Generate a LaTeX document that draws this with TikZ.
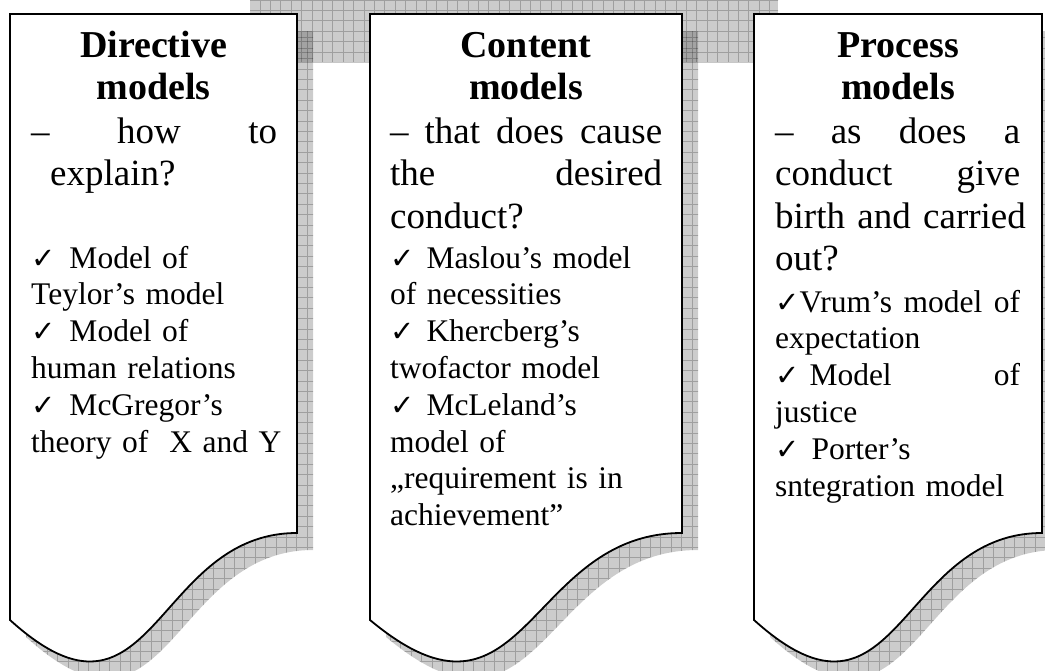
\documentclass[tikz,border=0pt]{standalone}
\usepackage{fontspec}
\setmainfont{Liberation Serif}
\newfontfamily\symfont{DejaVu Sans}
\newcommand\tick{{\symfont\fontsize{29}{29}\selectfont ✓}}
\newcommand\spread[2]{{\spaceskip=0pt\xspaceskip=0pt\makebox[#1pt][s]{#2}}}

\begin{document}
\begin{tikzpicture}
  [x=1pt,y=-1pt,
   shadowfill/.style={fill=black,fill opacity=0.2},
   gridline/.style={draw=black,draw opacity=0.22,line width=0.7pt,step=10.4pt},
   docbox/.style={draw=black,line width=1.8pt,fill=white},
   title/.style={font=\fontsize{38}{42.5}\selectfont\bfseries,align=center,anchor=base,inner sep=0pt,text width=280pt},
   question/.style={font=\fontsize{37}{42.5}\selectfont,align=left,anchor=base west,inner sep=0pt,text width=280pt},
   itemlist/.style={font=\fontsize{31.5}{36.8}\selectfont,align=left,anchor=base west,inner sep=0pt,text width=280pt}]
  \useasboundingbox (0,0) rectangle (1045,670);

  % grey band behind the boxes
  \fill[shadowfill] (250,-5) rectangle (778,62);
  \begin{scope}
    \clip (250,-5) rectangle (778,62);
    \draw[gridline] (240,-10) grid (790,70);
  \end{scope}

  % shadows
  \foreach \l/\r in {10/297,370/682,754/1042}{
    \pgfmathsetmacro\m{(\l+\r)/2}
    \begin{scope}[shift={(16,17)}]
      \fill[shadowfill] (\l,14) -- (\r,14) -- (\r,533)
        .. controls (\m,533) and (\m,750) .. (\l,620) -- cycle;
      \clip (\l,14) -- (\r,14) -- (\r,533)
        .. controls (\m,533) and (\m,750) .. (\l,620) -- cycle;
      \draw[gridline] (\l-20,0) grid (\r+20,700);
    \end{scope}
  }

  % document boxes
  \foreach \l/\r in {10/297,370/682,754/1042}{
    \pgfmathsetmacro\m{(\l+\r)/2}
    \draw[docbox] (\l,14) -- (\r,14) -- (\r,533)
      .. controls (\m,533) and (\m,750) .. (\l,620) -- cycle;
  }

  % directive models
  \node[title] (dir-title) at (153.5,57) {Directive\\models};
  \node[question] (dir-question) at (31,143)
    {\spread{246}{– how to}\\\hspace*{19pt}explain?};
  \node[itemlist] (dir-list) at (31,268)
    {\tick\hspace{14pt}Model of\\Teylor’s model\\
     \tick\hspace{14pt}Model of\\human relations\\
     \tick\hspace{14pt}McGregor’s\\theory of\ \ X and Y};

  % content models
  \node[title] (cont-title) at (526,57) {Content\\models};
  \node[question] (cont-question) at (390,143)
    {\spread{272}{– that does cause}\\\spread{272}{the desired}\\conduct?};
  \node[itemlist] (cont-list) at (390,268)
    {\tick\hspace{12pt}Maslou’s model\\of necessities\\
     \tick\hspace{12pt}Khercberg’s\\twofactor model\\
     \tick\hspace{12pt}McLeland’s\\model of\\„requirement is in\\achievement”};

  % process models
  \node[title] (proc-title) at (898,57) {Process\\models};
  \node[question] (proc-question) at (775,143)
    {\spread{245}{– as does a}\\\spread{245}{conduct give}\\birth and carried\\out?};
  \node[itemlist] (proc-list) at (775,312)
    {\spread{245}{\tick Vrum’s model of}\\expectation\\
     \spread{245}{\tick\hspace{10pt}Model of}\\justice\\
     \tick\hspace{12pt}Porter’s\\sntegration model};
\end{tikzpicture}
\end{document}
